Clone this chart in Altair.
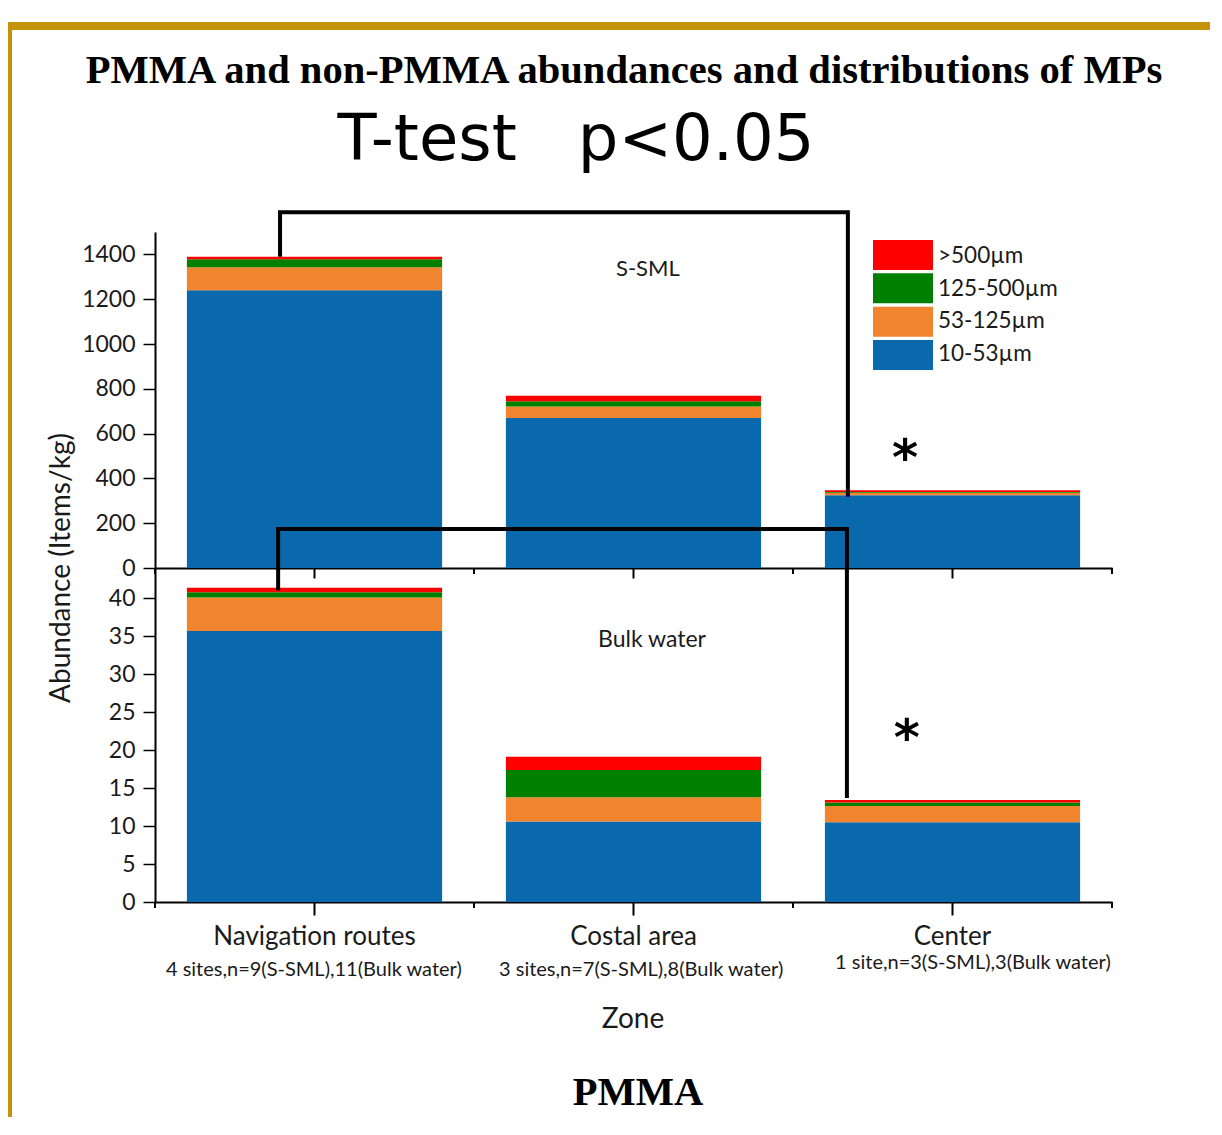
import altair as alt
import pandas as pd

# ---------------- data ----------------
zones = ["Navigation routes", "Costal area", "Center"]
zone_notes = ["4 sites,n=9(S-SML),11(Bulk water)",
              "3 sites,n=7(S-SML),8(Bulk water)",
              "1 site,n=3(S-SML),3(Bulk water)"]
sizes = ["10-53µm", "53-125µm", "125-500µm", ">500µm"]
colors = ["#0A69AD", "#F0852D", "#008000", "#FF0000"]

# S-SML (items/kg)
sml_10_53 = [1240, 670, 325]
sml_53_125 = [103, 51, 11]
sml_125_500 = [35, 23, 3]
sml_500 = [12, 25, 8]

# Bulk water
bulk_10_53 = [35.7, 10.6, 10.5]
bulk_53_125 = [4.4, 3.2, 2.15]
bulk_125_500 = [0.7, 3.6, 0.45]
bulk_500 = [0.6, 1.75, 0.35]

# significance brackets (x in zone-step units, y in data units)
br_top_x = [0.392, 0.392, 2.172, 2.172]
br_top_y = [1390, 1588, 1588, 318]
br_low_x = [0.386, 0.386, 2.169, 2.169]
br_low_y_top = [0, 174, 174, 0]
br_low_y_bottom_start = [44, 44]
br_low_y_bottom_end = [41.05, 13.7]
star_x = [2.351, 2.357]
star_y_top = 414
star_y_bottom = 19.3
panel_label_top = ("S-SML", 1.545, 1333)
panel_label_bottom = ("Bulk water", 1.558, 34.5)
note_x = [0.498, 1.524, 2.564]
note_y = [-8.9, -9.0, -8.0]

W, H1, H2 = 957, 336, 334
FONT = "Lato"
GOLD = "#C4930A"
TXT = "#1a1a1a"


def long_df(series):
    rows = []
    for si, s in enumerate(sizes):
        for zi, z in enumerate(zones):
            rows.append({"zone": z, "size": s, "order": si, "value": series[si][zi]})
    return pd.DataFrame(rows)


df_top = long_df([sml_10_53, sml_53_125, sml_125_500, sml_500])
df_bot = long_df([bulk_10_53, bulk_53_125, bulk_125_500, bulk_500])

color = alt.Color("size:N", scale=alt.Scale(domain=sizes, range=colors), legend=None)
xscale = alt.Scale(domain=zones, paddingInner=0.2, paddingOuter=0.1)
helper_x = alt.Scale(domain=[0, 3], nice=False, zero=False)


def bars(df, dom, ticks, xaxis):
    return alt.Chart(df).mark_bar().encode(
        x=alt.X("zone:N", sort=zones, scale=xscale, axis=xaxis),
        y=alt.Y("value:Q", stack="zero",
                scale=alt.Scale(domain=dom, nice=False, zero=True),
                axis=alt.Axis(values=ticks, format="d", title=None, grid=False, labelFont=FONT,
                              labelFontSize=23, labelColor=TXT, labelPadding=8,
                              tickSize=12, tickWidth=1.5, tickColor="black",
                              domainColor="black", domainWidth=2)),
        color=color,
        order=alt.Order("order:Q"),
    )


top_xaxis = alt.Axis(title=None, labels=False, tickSize=10, tickWidth=2,
                     tickColor="black", domainColor="black", domainWidth=2)
bot_xaxis = alt.Axis(title=None, labelAngle=0, labelFont=FONT, labelFontSize=26,
                     labelColor=TXT, labelPadding=8, labelLimit=0, tickSize=13, tickWidth=2,
                     tickColor="black", domainColor="black", domainWidth=2)

top_bars = bars(df_top, [0, 1500], list(range(0, 1401, 200)), top_xaxis)
bot_bars = bars(df_bot, [0, 44], list(range(0, 41, 5)), bot_xaxis)


def yq(dom):
    return alt.Scale(domain=dom, nice=False, zero=True)


# brackets
top_br_df = pd.DataFrame({"x": br_top_x, "y": br_top_y, "i": range(4)})
low_br_df = pd.DataFrame({"x": br_low_x, "y": br_low_y_top, "i": range(4)})
top_br = alt.Chart(top_br_df).mark_line(color="black", strokeWidth=4, strokeJoin="miter").encode(
    x=alt.X("x:Q", scale=helper_x, axis=None),
    y=alt.Y("y:Q", scale=yq([0, 1500]), axis=None),
    order="i:Q")
low_br = alt.Chart(low_br_df).mark_line(color="black", strokeWidth=4, strokeJoin="miter").encode(
    x=alt.X("x:Q", scale=helper_x, axis=None),
    y=alt.Y("y:Q", scale=yq([0, 1500]), axis=None),
    order="i:Q")
low_br2_df = pd.DataFrame({"x": [br_low_x[0], br_low_x[3]],
                           "y": br_low_y_bottom_start, "y2": br_low_y_bottom_end})
low_br2 = alt.Chart(low_br2_df).mark_rule(color="black", strokeWidth=4).encode(
    x=alt.X("x:Q", scale=helper_x, axis=None),
    y=alt.Y("y:Q", scale=yq([0, 44]), axis=None),
    y2="y2:Q")

# minor ticks at zone boundaries
minor_df = pd.DataFrame({"b": [0, 1, 2, 3]})


def minor(h):
    return alt.Chart(minor_df).mark_rule(color="black", strokeWidth=2).encode(
        x=alt.X("b:Q", scale=helper_x, axis=None),
        y=alt.value(h), y2=alt.value(h + 6))


# asterisks
star_top = alt.Chart(pd.DataFrame({"x": [star_x[0]], "y": [star_y_top]})).mark_text(
    text="*", font="DejaVu Sans", fontSize=50, fontWeight="bold", baseline="alphabetic", align="center", color="black"
).encode(x=alt.X("x:Q", scale=helper_x, axis=None), y=alt.Y("y:Q", scale=yq([0, 1500]), axis=None))
star_bot = alt.Chart(pd.DataFrame({"x": [star_x[1]], "y": [star_y_bottom]})).mark_text(
    text="*", font="DejaVu Sans", fontSize=50, fontWeight="bold", baseline="alphabetic", align="center", color="black"
).encode(x=alt.X("x:Q", scale=helper_x, axis=None), y=alt.Y("y:Q", scale=yq([0, 44]), axis=None))

# panel labels
pl_top = alt.Chart(pd.DataFrame({"t": [panel_label_top[0]], "x": [panel_label_top[1]], "y": [panel_label_top[2]]})).mark_text(
    font=FONT, fontSize=22, color=TXT, baseline="middle").encode(
    x=alt.X("x:Q", scale=helper_x, axis=None), y=alt.Y("y:Q", scale=yq([0, 1500]), axis=None), text="t:N")
pl_bot = alt.Chart(pd.DataFrame({"t": [panel_label_bottom[0]], "x": [panel_label_bottom[1]], "y": [panel_label_bottom[2]]})).mark_text(
    font=FONT, fontSize=23, color=TXT, baseline="middle").encode(
    x=alt.X("x:Q", scale=helper_x, axis=None), y=alt.Y("y:Q", scale=yq([0, 44]), axis=None), text="t:N")

# legend (manual)
leg_df = pd.DataFrame({"size": sizes})
leg_y = alt.Y("size:N", scale=alt.Scale(domain=sizes[::-1], range=[8, 138], paddingInner=0.1, paddingOuter=0), axis=None)
leg_rect = alt.Chart(leg_df).mark_rect().encode(
    x=alt.value(718), x2=alt.value(778), y=leg_y, color=color)
leg_text = alt.Chart(leg_df).mark_text(font=FONT, fontSize=22.5, color=TXT, align="left", baseline="middle").encode(
    x=alt.value(783), y=leg_y, text="size:N")

# titles and decorations (top panel coordinates)
one = pd.DataFrame({"a": [0]})


def label(text, x, y, **kw):
    return alt.Chart(one).mark_text(text=text, **kw).encode(x=alt.value(x), y=alt.value(y))


title1 = label("PMMA and non-PMMA abundances and distributions of MPs", 469, -149,
               font="Liberation Serif", fontSize=40.6, fontWeight="bold", color="black",
               align="center", baseline="alphabetic")
title2 = label("T-test\u00a0\u00a0\u00a0p<0.05", 421, -72, font="DejaVu Sans", fontSize=64,
               color="black", align="center", baseline="alphabetic")
ytitle = label("Abundance (Items/kg)", -93, H1, font=FONT, fontSize=28, color=TXT,
               angle=270, align="center", baseline="middle")
border_h = alt.Chart(one).mark_rect(color=GOLD).encode(
    x=alt.value(-147), x2=alt.value(1055), y=alt.value(-210), y2=alt.value(-202))
border_v = alt.Chart(one).mark_rect(color=GOLD).encode(
    x=alt.value(-147), x2=alt.value(-143), y=alt.value(-210), y2=alt.value(885))

# bottom panel texts
notes_df = pd.DataFrame({"x": note_x, "y": note_y, "note": zone_notes})
notes = alt.Chart(notes_df).mark_text(font=FONT, fontSize=20, color=TXT, baseline="middle").encode(
    x=alt.X("x:Q", scale=helper_x, axis=None),
    y=alt.Y("y:Q", scale=yq([0, 44]), axis=None), text="note:N")
zone_title = label("Zone", 478, 452, font=FONT, fontSize=28, color=TXT, align="center", baseline="middle")
pmma = label("PMMA", 483, 537, font="Liberation Serif", fontSize=40.5, fontWeight="bold",
             color="black", align="center", baseline="alphabetic")

top = alt.layer(
    border_h, border_v, top_bars, top_br, low_br, minor(H1), star_top, pl_top,
    leg_rect, leg_text, title1, title2, ytitle
).resolve_scale(x="independent", y="independent").properties(width=W, height=H1)

bottom = alt.layer(
    bot_bars, low_br2, minor(H2), star_bot, pl_bot, notes, zone_title, pmma
).resolve_scale(x="independent", y="independent").properties(width=W, height=H2)

chart = alt.vconcat(top, bottom, spacing=0, bounds="flush").properties(
    padding={"left": 0, "top": 14, "right": 0, "bottom": 0}, background="white"
).configure_view(strokeWidth=0, stroke=None)

chart.save("out.html", embed_options={"renderer": "svg", "actions": False})
